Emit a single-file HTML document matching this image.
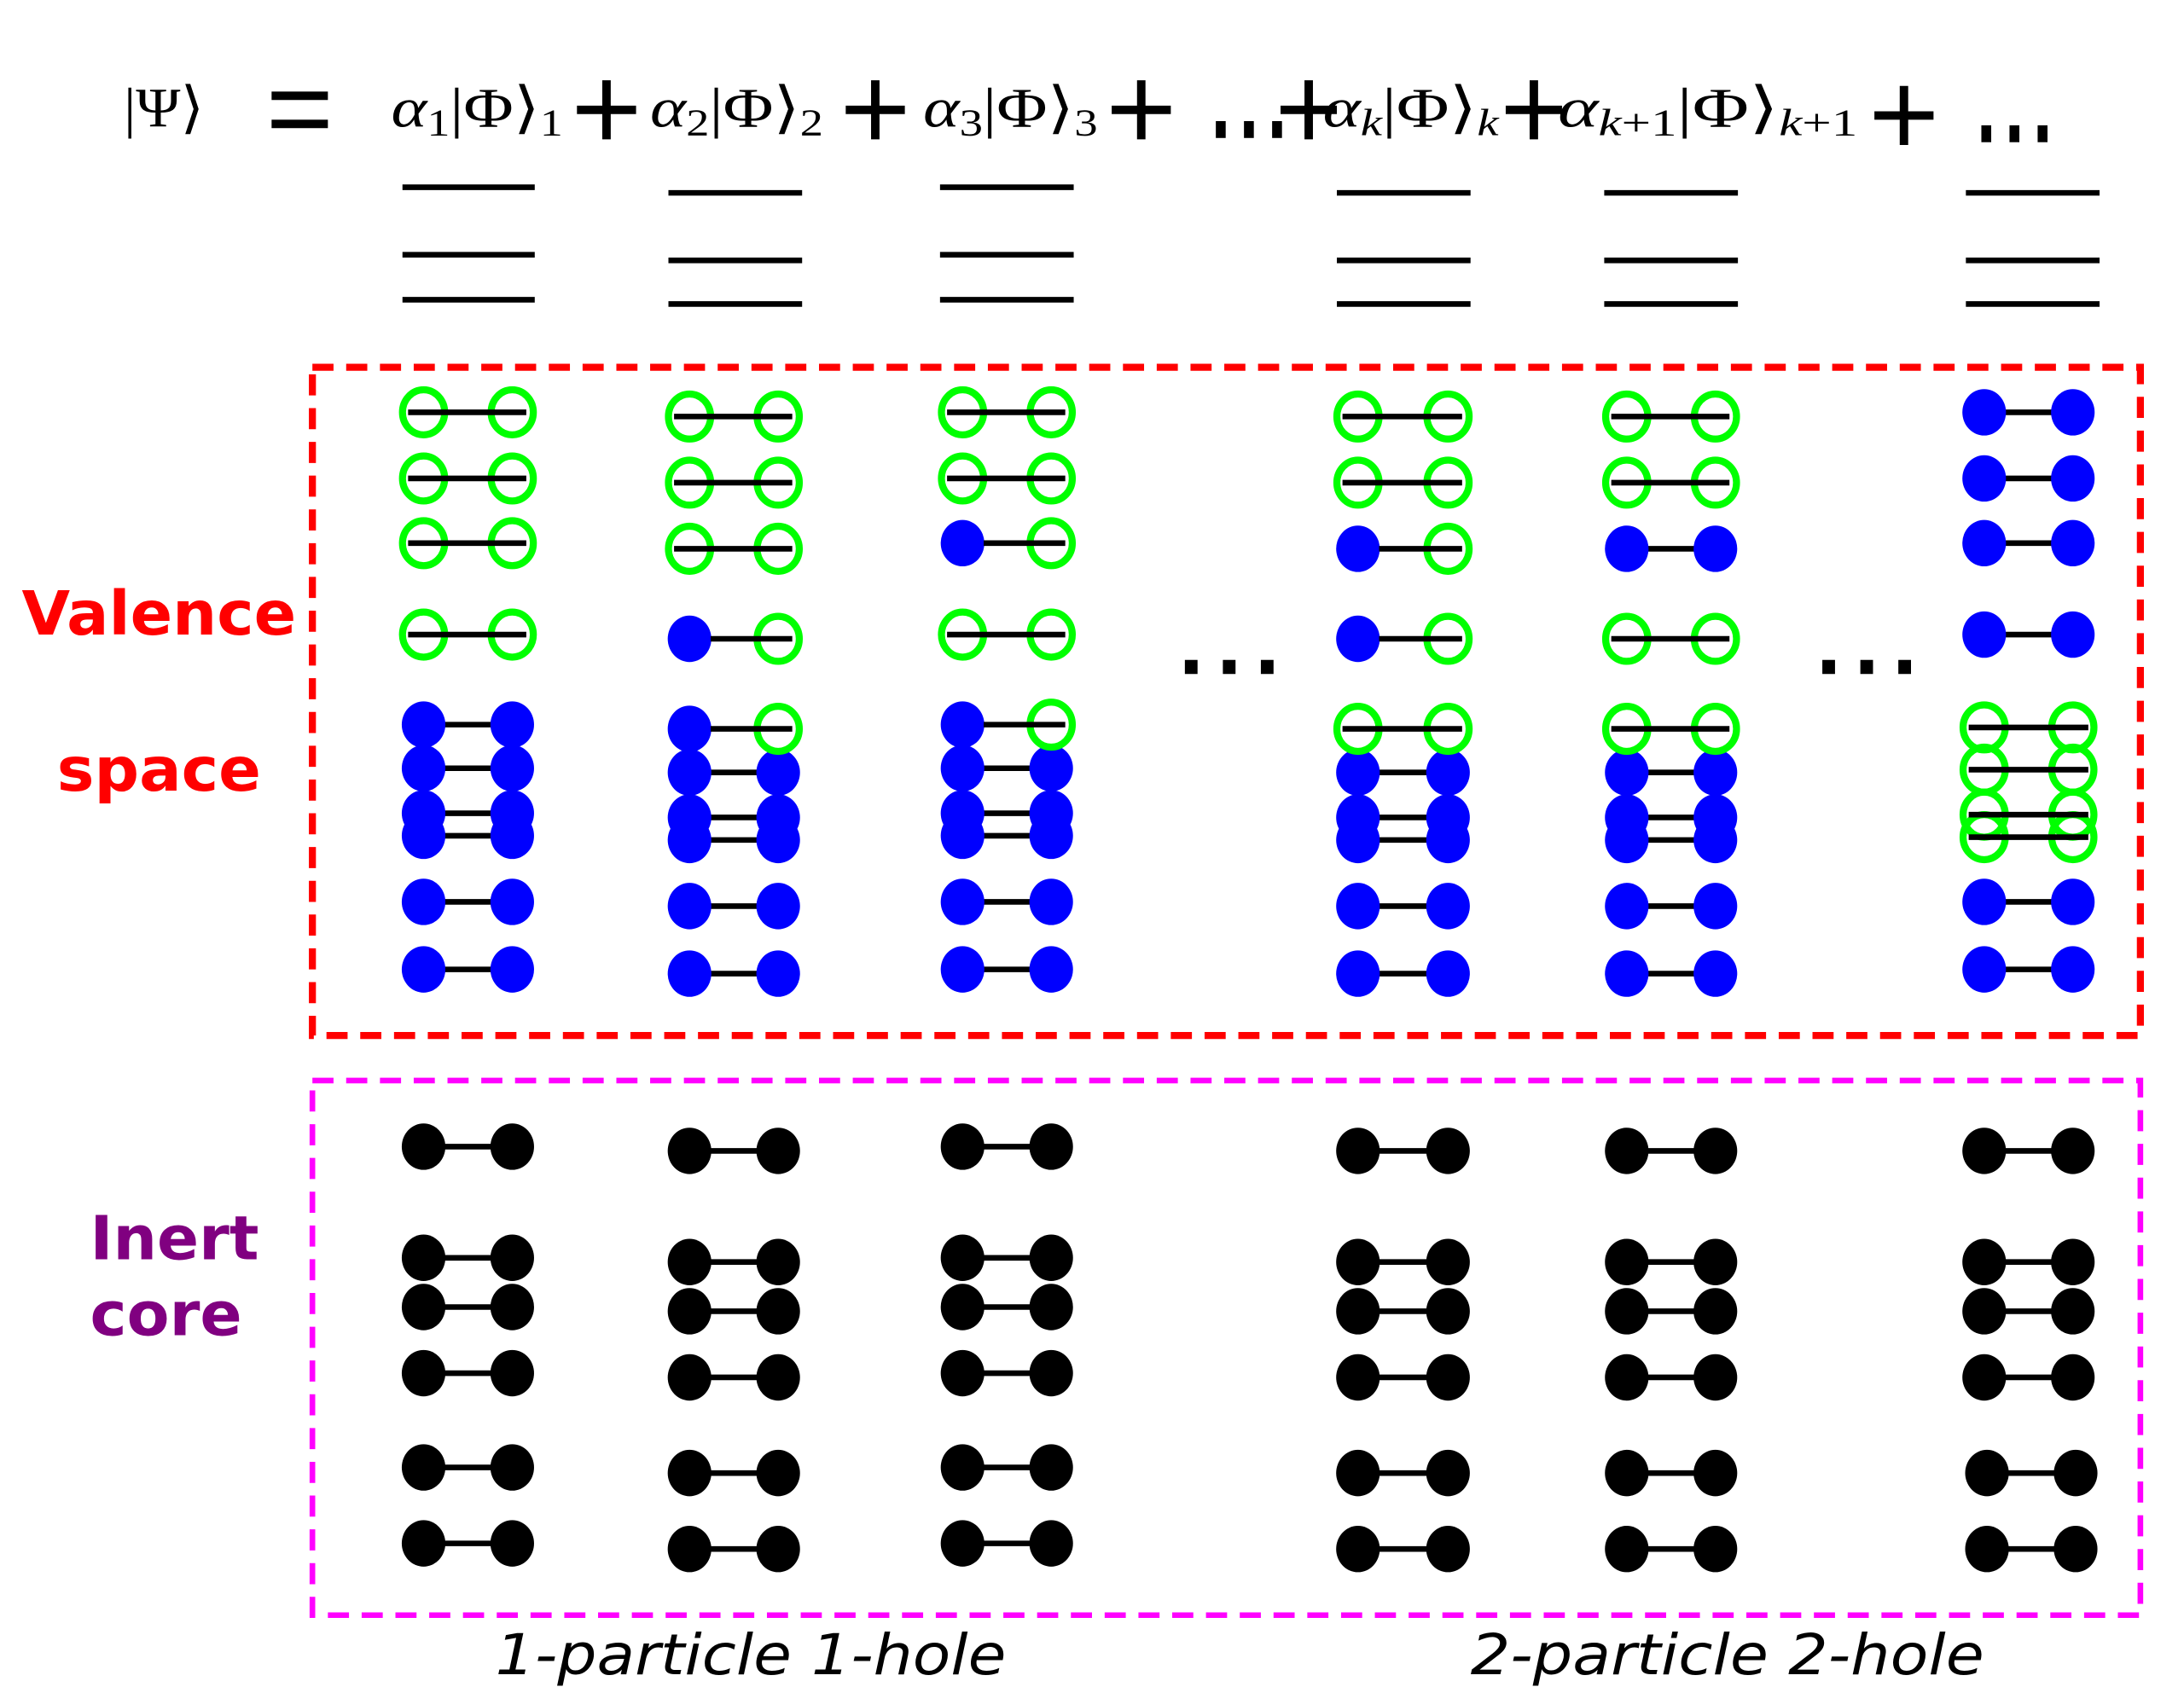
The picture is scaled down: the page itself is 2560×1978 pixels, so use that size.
<!DOCTYPE html>
<html><head><meta charset="utf-8"><style>html,body{margin:0;padding:0;background:#fff}svg{display:block}</style></head>
<body>
<svg width="2560" height="1978" viewBox="0 0 1552 1199" xmlns="http://www.w3.org/2000/svg" xmlns:xlink="http://www.w3.org/1999/xlink">
<defs>
<ellipse id="G" cx="0" cy="0" rx="15" ry="16" fill="none" stroke="#0f0" stroke-width="5"/>
<ellipse id="B" cx="0" cy="0" rx="15.5" ry="16.5" fill="#00f"/>
<ellipse id="K" cx="0" cy="0" rx="15.5" ry="16.5" fill="#000"/>
</defs>
<rect width="1552" height="1199" fill="#fff"/>
<g font-family="Liberation Serif, serif" font-size="40" font-style="italic" fill="#000">
<text x="88" y="90" font-style="normal" textLength="57" lengthAdjust="spacingAndGlyphs">|Ψ⟩</text>
<text x="278" y="90" textLength="122" lengthAdjust="spacingAndGlyphs">α<tspan font-size="27" font-style="normal" dy="6">1</tspan><tspan font-style="normal" dy="-6">|Φ⟩</tspan><tspan font-size="27" font-style="normal" dy="6">1</tspan></text>
<text x="462" y="90" textLength="123" lengthAdjust="spacingAndGlyphs">α<tspan font-size="27" font-style="normal" dy="6">2</tspan><tspan font-style="normal" dy="-6">|Φ⟩</tspan><tspan font-size="27" font-style="normal" dy="6">2</tspan></text>
<text x="656" y="90" textLength="124" lengthAdjust="spacingAndGlyphs">α<tspan font-size="27" font-style="normal" dy="6">3</tspan><tspan font-style="normal" dy="-6">|Φ⟩</tspan><tspan font-size="27" font-style="normal" dy="6">3</tspan></text>
<text x="940" y="90" textLength="125" lengthAdjust="spacingAndGlyphs">α<tspan font-size="27" dy="6">k</tspan><tspan font-style="normal" dy="-6">|Φ⟩</tspan><tspan font-size="27" dy="6">k</tspan></text>
<text x="1107" y="90" textLength="213" lengthAdjust="spacingAndGlyphs">α<tspan font-size="27" dy="6">k</tspan><tspan font-size="27" font-style="normal">+1</tspan><tspan font-style="normal" dy="-6">|Φ⟩</tspan><tspan font-size="27" dy="6">k</tspan><tspan font-size="27" font-style="normal">+1</tspan></text>
</g>
<g fill="#000">
<rect x="193" y="65" width="40" height="6"/><rect x="193" y="85" width="40" height="6"/>
</g>
<g stroke="#000" stroke-width="6">
<path d="M410 78h42M431 57v42"/>
<path d="M601 78h42M622 57v42"/>
<path d="M790 78h42M811 57v42"/>
<path d="M910 78h40M930 57v42"/>
<path d="M1070 78h40M1090 57v42"/>
<path d="M1332 82h42M1353 61v42"/>
</g>
<g fill="#000">
<rect x="864" y="86" width="7" height="12"/><rect x="884" y="86" width="7" height="12"/><rect x="904" y="86" width="7" height="12"/>
<rect x="1408" y="89" width="7" height="12"/><rect x="1428" y="89" width="7" height="12"/><rect x="1448" y="89" width="7" height="12"/>
<rect x="842" y="469" width="9" height="10"/><rect x="869" y="469" width="9" height="10"/><rect x="896" y="469" width="9" height="10"/>
<rect x="1295" y="469" width="9" height="10"/><rect x="1322" y="469" width="9" height="10"/><rect x="1349" y="469" width="9" height="10"/>
</g>
<g stroke="#000" stroke-width="4">
<path d="M286 133h94M286 181h94M286 213h94"/>
<path d="M475 137h95M475 185h95M475 216h95"/>
<path d="M668 133h95M668 181h95M668 213h95"/>
<path d="M950 137h95M950 185h95M950 216h95"/>
<path d="M1140 137h95M1140 185h95M1140 216h95"/>
<path d="M1397 137h95M1397 185h95M1397 216h95"/>
</g>
<rect x="222" y="261" width="1299" height="475" fill="none" stroke="#f00" stroke-width="5" stroke-dasharray="15 9"/>
<rect x="222" y="768" width="1299" height="380" fill="none" stroke="#f0f" stroke-width="4" stroke-dasharray="15 9"/>
<g font-family="DejaVu Sans, sans-serif" font-weight="bold" font-size="43">
<text x="113" y="451" fill="#f00" text-anchor="middle" textLength="195" lengthAdjust="spacingAndGlyphs">Valence</text>
<text x="113" y="562" fill="#f00" text-anchor="middle" textLength="145" lengthAdjust="spacingAndGlyphs">space</text>
<text x="124" y="895" fill="#800080" text-anchor="middle" textLength="120" lengthAdjust="spacingAndGlyphs">Inert</text>
<text x="118" y="949" fill="#800080" text-anchor="middle" textLength="108" lengthAdjust="spacingAndGlyphs">core</text>
</g>
<g font-family="DejaVu Sans, sans-serif" font-style="italic" font-size="40" fill="#000">
<text x="352" y="1190" textLength="363" lengthAdjust="spacingAndGlyphs">1-particle 1-hole</text>
<text x="1045" y="1190" textLength="365" lengthAdjust="spacingAndGlyphs">2-particle 2-hole</text>
</g>

<!-- Column 1 -->
<g stroke="#000" stroke-width="4">
<path d="M301 515H364M301 546H364M301 578H364M301 594H364M301 641H364M301 689H364"/>
<path d="M301 815H364M301 894H364M301 929H364M301 976H364M301 1043H364M301 1097H364"/>
</g>
<use href="#B" x="301" y="515"/><use href="#B" x="364" y="515"/>
<use href="#B" x="301" y="546"/><use href="#B" x="364" y="546"/>
<use href="#B" x="301" y="578"/><use href="#B" x="364" y="578"/>
<use href="#B" x="301" y="594"/><use href="#B" x="364" y="594"/>
<use href="#B" x="301" y="641"/><use href="#B" x="364" y="641"/>
<use href="#B" x="301" y="689"/><use href="#B" x="364" y="689"/>
<use href="#G" x="301" y="293"/><use href="#G" x="364" y="293"/>
<use href="#G" x="301" y="340"/><use href="#G" x="364" y="340"/>
<use href="#G" x="301" y="386"/><use href="#G" x="364" y="386"/>
<use href="#G" x="301" y="451"/><use href="#G" x="364" y="451"/>
<g stroke="#000" stroke-width="4"><path d="M290 293H374M290 340H374M290 386H374M290 451H374"/></g>
<use href="#K" x="301" y="815"/><use href="#K" x="364" y="815"/>
<use href="#K" x="301" y="894"/><use href="#K" x="364" y="894"/>
<use href="#K" x="301" y="929"/><use href="#K" x="364" y="929"/>
<use href="#K" x="301" y="976"/><use href="#K" x="364" y="976"/>
<use href="#K" x="301" y="1043"/><use href="#K" x="364" y="1043"/>
<use href="#K" x="301" y="1097"/><use href="#K" x="364" y="1097"/>

<!-- Column 2 -->
<g stroke="#000" stroke-width="4">
<path d="M490 549H553M490 581H553M490 597H553M490 644H553M490 692H553"/>
<path d="M490 818H553M490 897H553M490 932H553M490 979H553M490 1047H553M490 1101H553"/>
</g>
<use href="#B" x="490" y="549"/><use href="#B" x="553" y="549"/>
<use href="#B" x="490" y="581"/><use href="#B" x="553" y="581"/>
<use href="#B" x="490" y="597"/><use href="#B" x="553" y="597"/>
<use href="#B" x="490" y="644"/><use href="#B" x="553" y="644"/>
<use href="#B" x="490" y="692"/><use href="#B" x="553" y="692"/>
<use href="#G" x="490" y="296"/><use href="#G" x="553" y="296"/>
<use href="#G" x="490" y="343"/><use href="#G" x="553" y="343"/>
<use href="#G" x="490" y="390"/><use href="#G" x="553" y="390"/>
<use href="#B" x="490" y="454"/><use href="#G" x="553" y="454"/>
<use href="#B" x="490" y="518"/><use href="#G" x="553" y="518"/>
<g stroke="#000" stroke-width="4"><path d="M479 296H563M479 343H563M479 390H563M505 454H563M505 518H563"/></g>
<use href="#K" x="490" y="818"/><use href="#K" x="553" y="818"/>
<use href="#K" x="490" y="897"/><use href="#K" x="553" y="897"/>
<use href="#K" x="490" y="932"/><use href="#K" x="553" y="932"/>
<use href="#K" x="490" y="979"/><use href="#K" x="553" y="979"/>
<use href="#K" x="490" y="1047"/><use href="#K" x="553" y="1047"/>
<use href="#K" x="490" y="1101"/><use href="#K" x="553" y="1101"/>

<!-- Column 3 -->
<g stroke="#000" stroke-width="4">
<path d="M684 546H747M684 578H747M684 594H747M684 641H747M684 689H747"/>
<path d="M684 815H747M684 894H747M684 929H747M684 976H747M684 1043H747M684 1097H747"/>
</g>
<use href="#B" x="684" y="546"/><use href="#B" x="747" y="546"/>
<use href="#B" x="684" y="578"/><use href="#B" x="747" y="578"/>
<use href="#B" x="684" y="594"/><use href="#B" x="747" y="594"/>
<use href="#B" x="684" y="641"/><use href="#B" x="747" y="641"/>
<use href="#B" x="684" y="689"/><use href="#B" x="747" y="689"/>
<use href="#G" x="684" y="293"/><use href="#G" x="747" y="293"/>
<use href="#G" x="684" y="340"/><use href="#G" x="747" y="340"/>
<use href="#B" x="684" y="386"/><use href="#G" x="747" y="386"/>
<use href="#G" x="684" y="451"/><use href="#G" x="747" y="451"/>
<use href="#B" x="684" y="515"/><use href="#G" x="747" y="515"/>
<g stroke="#000" stroke-width="4"><path d="M673 293H757M673 340H757M699 386H757M673 451H757M699 515H757"/></g>
<use href="#K" x="684" y="815"/><use href="#K" x="747" y="815"/>
<use href="#K" x="684" y="894"/><use href="#K" x="747" y="894"/>
<use href="#K" x="684" y="929"/><use href="#K" x="747" y="929"/>
<use href="#K" x="684" y="976"/><use href="#K" x="747" y="976"/>
<use href="#K" x="684" y="1043"/><use href="#K" x="747" y="1043"/>
<use href="#K" x="684" y="1097"/><use href="#K" x="747" y="1097"/>

<!-- Column 4 -->
<g stroke="#000" stroke-width="4">
<path d="M965 549H1029M965 581H1029M965 597H1029M965 644H1029M965 692H1029"/>
<path d="M965 818H1029M965 897H1029M965 932H1029M965 979H1029M965 1047H1029M965 1101H1029"/>
</g>
<use href="#B" x="965" y="549"/><use href="#B" x="1029" y="549"/>
<use href="#B" x="965" y="581"/><use href="#B" x="1029" y="581"/>
<use href="#B" x="965" y="597"/><use href="#B" x="1029" y="597"/>
<use href="#B" x="965" y="644"/><use href="#B" x="1029" y="644"/>
<use href="#B" x="965" y="692"/><use href="#B" x="1029" y="692"/>
<use href="#G" x="965" y="296"/><use href="#G" x="1029" y="296"/>
<use href="#G" x="965" y="343"/><use href="#G" x="1029" y="343"/>
<use href="#B" x="965" y="390"/><use href="#G" x="1029" y="390"/>
<use href="#B" x="965" y="454"/><use href="#G" x="1029" y="454"/>
<use href="#G" x="965" y="518"/><use href="#G" x="1029" y="518"/>
<g stroke="#000" stroke-width="4"><path d="M954 296H1039M954 343H1039M980 390H1039M980 454H1039M954 518H1039"/></g>
<use href="#K" x="965" y="818"/><use href="#K" x="1029" y="818"/>
<use href="#K" x="965" y="897"/><use href="#K" x="1029" y="897"/>
<use href="#K" x="965" y="932"/><use href="#K" x="1029" y="932"/>
<use href="#K" x="965" y="979"/><use href="#K" x="1029" y="979"/>
<use href="#K" x="965" y="1047"/><use href="#K" x="1029" y="1047"/>
<use href="#K" x="965" y="1101"/><use href="#K" x="1029" y="1101"/>

<!-- Column 5 -->
<g stroke="#000" stroke-width="4">
<path d="M1156 390H1219M1156 549H1219M1156 581H1219M1156 597H1219M1156 644H1219M1156 692H1219"/>
<path d="M1156 818H1219M1156 897H1219M1156 932H1219M1156 979H1219M1156 1047H1219M1156 1101H1219"/>
</g>
<use href="#B" x="1156" y="390"/><use href="#B" x="1219" y="390"/>
<use href="#B" x="1156" y="549"/><use href="#B" x="1219" y="549"/>
<use href="#B" x="1156" y="581"/><use href="#B" x="1219" y="581"/>
<use href="#B" x="1156" y="597"/><use href="#B" x="1219" y="597"/>
<use href="#B" x="1156" y="644"/><use href="#B" x="1219" y="644"/>
<use href="#B" x="1156" y="692"/><use href="#B" x="1219" y="692"/>
<use href="#G" x="1156" y="296"/><use href="#G" x="1219" y="296"/>
<use href="#G" x="1156" y="343"/><use href="#G" x="1219" y="343"/>
<use href="#G" x="1156" y="454"/><use href="#G" x="1219" y="454"/>
<use href="#G" x="1156" y="518"/><use href="#G" x="1219" y="518"/>
<g stroke="#000" stroke-width="4"><path d="M1145 296H1229M1145 343H1229M1145 454H1229M1145 518H1229"/></g>
<use href="#K" x="1156" y="818"/><use href="#K" x="1219" y="818"/>
<use href="#K" x="1156" y="897"/><use href="#K" x="1219" y="897"/>
<use href="#K" x="1156" y="932"/><use href="#K" x="1219" y="932"/>
<use href="#K" x="1156" y="979"/><use href="#K" x="1219" y="979"/>
<use href="#K" x="1156" y="1047"/><use href="#K" x="1219" y="1047"/>
<use href="#K" x="1156" y="1101"/><use href="#K" x="1219" y="1101"/>

<!-- Column 6 -->
<g stroke="#000" stroke-width="4">
<path d="M1410 293H1487M1410 340H1487M1410 386H1487M1410 451H1487M1410 641H1487M1410 689H1487"/>
<path d="M1410 818H1473M1410 897H1473M1410 932H1473M1410 979H1473M1410 1047H1473M1410 1101H1473"/>
</g>
<use href="#B" x="1410" y="293"/><use href="#B" x="1473" y="293"/>
<use href="#B" x="1410" y="340"/><use href="#B" x="1473" y="340"/>
<use href="#B" x="1410" y="386"/><use href="#B" x="1473" y="386"/>
<use href="#B" x="1410" y="451"/><use href="#B" x="1473" y="451"/>
<use href="#B" x="1410" y="641"/><use href="#B" x="1473" y="641"/>
<use href="#B" x="1410" y="689"/><use href="#B" x="1473" y="689"/>
<use href="#G" x="1410" y="517"/><use href="#G" x="1473" y="517"/>
<use href="#G" x="1410" y="547"/><use href="#G" x="1473" y="547"/>
<use href="#G" x="1410" y="579"/><use href="#G" x="1473" y="579"/>
<use href="#G" x="1410" y="595"/><use href="#G" x="1473" y="595"/>
<g stroke="#000" stroke-width="4"><path d="M1399 517H1484M1399 547H1484M1399 579H1484M1399 595H1484"/></g>
<use href="#K" x="1410" y="818"/><use href="#K" x="1473" y="818"/>
<use href="#K" x="1410" y="897"/><use href="#K" x="1473" y="897"/>
<use href="#K" x="1410" y="932"/><use href="#K" x="1473" y="932"/>
<use href="#K" x="1410" y="979"/><use href="#K" x="1473" y="979"/>
<use href="#K" x="1412" y="1047"/><use href="#K" x="1475" y="1047"/>
<use href="#K" x="1412" y="1101"/><use href="#K" x="1475" y="1101"/>
</svg>
</body></html>
